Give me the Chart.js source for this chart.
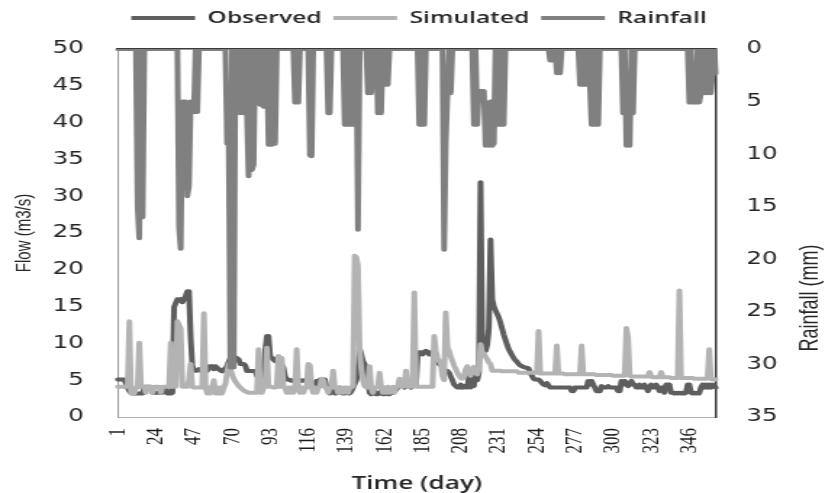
<!DOCTYPE html>
<html><head><meta charset="utf-8">
<script src="https://cdn.jsdelivr.net/npm/chart.js@4.4.1/dist/chart.umd.min.js"></script>
<style>
html,body{margin:0;padding:0;background:#fff;overflow:hidden;}
#wrap{width:825px;height:493px;overflow:hidden;}
canvas{transform:scaleX(1.449912);transform-origin:0 0;}
</style></head><body>
<div id="wrap"><canvas id="c" width="569" height="493"></canvas></div>
<script>
const dayCount = 362;
const days = Array.from({length: dayCount}, (_, i) => String(i + 1));
const xTickLabels = ['1','24','47','70','93','116','139','162','185','208','231','254','277','300','323','346'];

const observed = [
5.1,5.1,5.1,5.1,5.1,4.5,4,3.5,3.3,3.2,
3.2,3.2,3.2,3.2,3.2,3.2,4.1,4.1,4.1,4.1,
4.1,3.3,3.3,3.3,3.3,3.3,3.3,3.3,4,4,
3.2,3.2,3.2,3.3,14.9,15.5,16,15.8,16,15.6,
16,16.5,17.1,17.1,11,7,6.3,6.3,6.3,6.5,
6.3,6.5,6.9,6.5,6.3,6.9,6.7,6.9,6.5,6.9,
6.7,6.5,6.3,6.2,6.5,6.5,7,7.5,8,8.1,
8.1,8.1,8,7.8,7.2,7.2,7.2,7,6.25,6.25,
6.25,6.25,6.25,6.25,5.6,5.4,5.5,5.6,6.5,9,
11,11,8.3,8,7.8,7.6,8,8.1,7.5,7,
6.7,5.5,5.1,5.1,5,4.9,5,4.9,5,4.9,
5,4.9,5,4.9,5,4.9,4.4,4,4,4.4,
4.9,4.4,5.1,5.1,5.1,5.1,4,3.5,3.2,3.5,
4,3.2,3.2,3.5,4,3.3,3.2,3.2,3.5,3.2,
3.2,3.5,4,4.5,5,6,9.3,8.5,7.6,7.2,
6.5,5,3.3,3.1,3.3,3.5,3.1,3.1,3.3,3.5,
3.1,3.1,3.3,3.1,3.1,3.5,3.3,3.5,3.7,4,
4.4,4.9,4.4,4,4.4,4.9,4.4,4,4.4,4.9,
4.4,8.5,8.8,8.8,8.5,8.8,9,8.8,8.5,8.8,
8.5,8.1,7.8,7.5,7.2,7,6.8,6.5,6.3,6.25,
6,5.5,5,4.4,4.2,4,4,4.4,4,4.2,
4,4,5.5,4,6,4.2,6.5,5,6,31.9,
10,9.5,9,9.8,12,24.1,16,15,14.5,14,
13.5,12.8,12,11.2,10.5,9.8,9.2,8.8,8.4,8,
7.7,7.5,7.2,7,6.9,6.8,6.7,6.7,6.6,6,
5.6,5.2,5.1,5.1,5.1,4.9,4.6,4.4,4.3,4.6,
4.3,4,4,4,4,4,4,4,4,4,
4,4,4,4,3.5,3.5,4,4,4,4,
4,4,4,4,4.9,4.4,4.9,4.4,4,3.5,
3.5,3.5,4.2,4,4,4,4.2,4,4,4,
4,4,3.5,3.5,4.9,4.4,4.9,4.4,4.2,4.4,
4.9,4.4,4.4,4,4,4.4,4,4,4.4,4,
3.5,4,4.4,4,4,4.4,4,3.5,4,4,
3.3,4.4,4.4,4.4,3.3,3.3,3.2,3.3,3.2,3.3,
3.2,3.3,3.2,3.3,4.4,4.4,3.3,3.2,3.3,3.2,
3.3,3.2,4,4.4,4,4.4,4,4.4,4,4.4,
4.2,4
];

const simulated = [
4.1,4.1,4.1,4.1,4.1,4.1,4.1,13,3.2,3.2,
3.2,4,4,10.1,4.1,4.1,4.1,3.3,4.1,4.1,
4.1,3.3,4.1,4.1,4.1,4.1,3.3,4.1,4.1,4.1,
4.1,4.1,10.1,4.1,4.1,4.1,13,12.5,12,4.1,
4.1,4.1,4.1,5,7.2,4.1,4,4,4,4,
4,4,14.1,4,3.2,4,3.2,4,5,3.2,
4,3.2,4,3.2,4,4.5,6,7.2,6.5,5.8,
5.2,4.8,4.5,4.2,4,3.8,3.6,3.5,3.4,3.3,
3.3,3.3,3.3,3.3,3.3,9.2,3.3,3.3,4,4.1,
9.4,4.1,4.1,4.1,4,4,4.1,8.3,4.1,8,
4.1,4,3.3,4,3.3,4,3.3,4,9.2,4,
3.3,4,3.3,4,4,7.2,7,4,3.3,4,
3.3,4,4.1,5.2,5,4.1,4,3.3,4,4,
6.3,4,4,3.3,4,4,3.3,4,4,3.3,
4,4,4.2,21.9,21.7,20.5,9,6.5,5,4.2,
4,4,6.9,4,3.3,4,4,4.1,6,4.1,
3.3,4,3.3,4.1,3.3,4,4.1,3.3,4.1,4.1,
5.2,4.1,4.1,4.5,6.3,4.1,4.1,4.1,5,16.9,
4.1,4.1,4.1,4.1,4.1,4.1,4.1,4.1,4.1,4.1,
4.1,11,9,8,7.6,7.2,5.5,5,14.2,9.5,
9,8.2,7.6,7,6.5,6,5.6,5.3,5.2,5.5,
6.5,6.9,6,5.6,6.5,6.8,6,5.8,6.5,9.9,
8.8,8.6,8.2,7.8,7.4,7.2,6.3,6.3,6.3,6.3,
6.3,6.3,6.2,6.2,6.2,6.2,6.2,6.2,6.2,6.2,
6.2,6.2,6,6,6,6,6,6,6,6,
6,6,6,6,11.7,5.9,5.9,5.9,5.9,5.9,
5.9,5.9,5.9,5.9,5.9,9.7,5.9,5.9,5.9,5.9,
5.8,5.8,5.8,5.8,5.8,5.8,5.8,5.8,5.8,5.8,
9.7,5.8,5.8,5.8,5.8,5.8,5.8,5.8,5.8,5.7,
5.7,5.7,5.7,5.7,5.7,5.7,5.7,5.7,5.7,5.6,
5.6,5.6,5.6,5.6,5.6,5.6,5.6,12.1,10.8,5.6,
5.5,5.5,5.5,5.5,5.5,5.5,5.5,5.5,5.5,5.5,
5.5,6.1,5.5,5.4,5.4,5.4,5.4,5.4,6.1,5.4,
5.4,5.4,5.4,5.4,5.3,5.3,5.3,5.3,5.3,17.2,
5.3,5.3,5.3,5.3,5.3,5.3,5.3,5.3,5.2,5.2,
5.2,5.2,5.2,5.2,5.2,5.2,5.2,9.2,5.2,5.1,
5.1,5.1
];

const rainfall = [
0,0,0,0,0,0,0,0,0,0,
0,0,15,18,0,16,0,0,0,0,
0,0,0,0,0,0,0,0,0,0,
0,0,0,0,0,0,0,17,19,5,
5,5,14,13,5,5,6,0,6,0,
0,0,0,0,0,0,0,0,0,0,
0,0,0,0,0,0,9,9,30.3,0,
30.3,0,0,0,6.1,0,6.1,0,6,12.1,
0,11.5,11,0,0,0,5.3,0,5.5,0,
0,9.1,0,9.1,0,9,0,0,0,0,
0,0,0,0,0,0,0,5.1,0,5.1,
0,0,0,0,0,0,10.1,10.2,0,0,
0,0,0,0,0,0,0,6.1,6.1,0,
0,0,0,0,0,0,0,7.2,0,7.2,
0,7.2,0,7.2,0,17.2,0,0,0,0,
0,4.2,0,4.2,0,3.4,0,6.1,0,6.1,
0,3.4,0,3.4,0,0,0,0,0,0,
0,0,0,0,0,0,0,0,0,0,
0,0,7.2,0,7.2,7.2,0,0,0,0,
0,0,0,0,0,0,0,19.1,8.8,4.2,
0,4.2,0,0,0,0,0,0,0,0,
0,0,0,0,0,7.2,0,7.2,4,4,
4,4,9.2,5.1,9.2,5,9.2,9,0,7.2,
0,7.2,0,7.2,0,0,0,0,0,0,
0,0,0,0,0,0,0,0,0,0,
0,0,0,0,0,0,0,0,0,0,
0,1.1,0,1.1,0,2.3,0,2.3,0,0,
0,0,0,0,0,0,0,0,0,3.4,
0,3.4,0,3.4,0,3.4,7.2,0,7.2,0,
7.2,0,0,0,0,0,0,0,0,0,
0,0,0,0,0,6.1,0,9.2,2.5,9.2,
0,6.1,0,0,0,0,0,0,0,0,
0,0,0,0,0,0,0,0,0,0,
0,0,0,0,0,0,0,0,0,0,
0,0,0,0,0,5.1,0,5.1,3,5.1,
0,5.1,4.2,0,4.2,0,4.2,0,4.2,2.3,
0,2.3
];

const flowAxis = {min: 0, max: 50, step: 5};
const rainAxis = {min: 0, max: 35, step: 5};
const rightTitleText = 'Rainfall (mm)';

const CW = 569, LEFT = 81.2, RIGHT = 493.7, PADL = 9;

const rightTitlePlugin = {
  id: 'rightTitle',
  afterDraw(chart) {
    const ctx = chart.ctx;
    ctx.save();
    ctx.font = "18px 'Liberation Sans', Arial, sans-serif";
    ctx.fillStyle = '#262626';
    ctx.textAlign = 'center';
    ctx.textBaseline = 'middle';
    ctx.translate(558.6, 298);
    ctx.rotate(-Math.PI / 2);
    ctx.fillText(rightTitleText, 0, 0);
    ctx.restore();
  }
};

const lineDefaults = {pointRadius: 0, pointHoverRadius: 0, borderWidth: 4, tension: 0, borderJoinStyle: 'round', borderCapStyle: 'round', fill: false, xAxisID: 'x'};

new Chart(document.getElementById('c'), {
  type: 'line',
  data: {
    labels: days,
    datasets: [
      Object.assign({label: 'Observed', data: observed, borderColor: '#5e5e5e', backgroundColor: '#5e5e5e', yAxisID: 'y', order: 3}, lineDefaults),
      Object.assign({label: 'Simulated', data: simulated, borderColor: '#b3b3b3', backgroundColor: '#b3b3b3', yAxisID: 'y', order: 2}, lineDefaults),
      Object.assign({label: 'Rainfall', data: rainfall, borderColor: '#808080', backgroundColor: '#808080', yAxisID: 'y2', order: 1}, lineDefaults)
    ]
  },
  options: {
    responsive: false,
    animation: false,
    devicePixelRatio: 1,
    events: [],
    layout: {padding: {left: PADL, right: 0, top: 1.5, bottom: 0}},
    plugins: {
      tooltip: {enabled: false},
      title: {display: false},
      subtitle: {display: true, text: '', weight: 500, padding: {top: 11.5, bottom: 0}, font: {size: 1, lineHeight: 1}},
      legend: {
        display: true, position: 'top', align: 'center',
        labels: {
          usePointStyle: true, pointStyle: 'line', pointStyleWidth: 44, padding: 8,
          color: '#262626',
          font: {family: "'Open Sans', sans-serif", size: 17, weight: '600'},
          sort: (a, b) => a.datasetIndex - b.datasetIndex
        }
      }
    },
    scales: {
      x: {
        type: 'category', position: 'bottom',
        grid: {display: false, drawTicks: false},
        border: {display: true, color: '#b0b0b0', width: 1},
        ticks: {
          autoSkip: false, maxRotation: 90, minRotation: 90, padding: 11,
          color: '#1a1a1a',
          font: {family: "'Liberation Serif', 'Times New Roman', serif", size: 17},
          callback: function(v, i) { const l = days[i]; return xTickLabels.includes(l) ? l : ''; }
        },
        title: {display: true, text: 'Time (day)', color: '#262626', padding: {top: 0, bottom: 0},
          font: {family: "'Open Sans', sans-serif", size: 18, weight: '600', lineHeight: 1}},
        afterFit: s => { s.height = 76; }
      },
      xTop: {
        type: 'category', position: 'top', display: true, z: 1,
        grid: {display: false, drawTicks: false},
        border: {display: true, color: '#3a3a3a', width: 1.5},
        ticks: {display: false},
        afterFit: s => { s.height = 0; }
      },
      y: {
        position: 'left', min: flowAxis.min, max: flowAxis.max,
        grid: {display: false, drawTicks: false},
        border: {display: true, color: '#9a9a9a', width: 1},
        ticks: {stepSize: flowAxis.step, padding: 23.3, color: '#262626',
          font: {family: "'DejaVu Sans', sans-serif", size: 17}},
        title: {display: true, text: 'Flow (m3/s)', color: '#262626', padding: {top: 0, bottom: 0},
          font: {family: "'Liberation Sans', Arial, sans-serif", size: 15, lineHeight: 1}},
        afterFit: s => { s.width = LEFT - PADL; }
      },
      y2: {
        position: 'right', reverse: true, min: rainAxis.min, max: rainAxis.max, z: 1,
        grid: {display: false, drawTicks: false},
        border: {display: true, color: '#3a3a3a', width: 1.5},
        ticks: {stepSize: rainAxis.step, padding: 21, color: '#262626',
          font: {family: "'DejaVu Sans', sans-serif", size: 17}},
        afterFit: s => { s.width = CW - RIGHT; }
      }
    }
  },
  plugins: [rightTitlePlugin]
});
</script>
</body></html>
